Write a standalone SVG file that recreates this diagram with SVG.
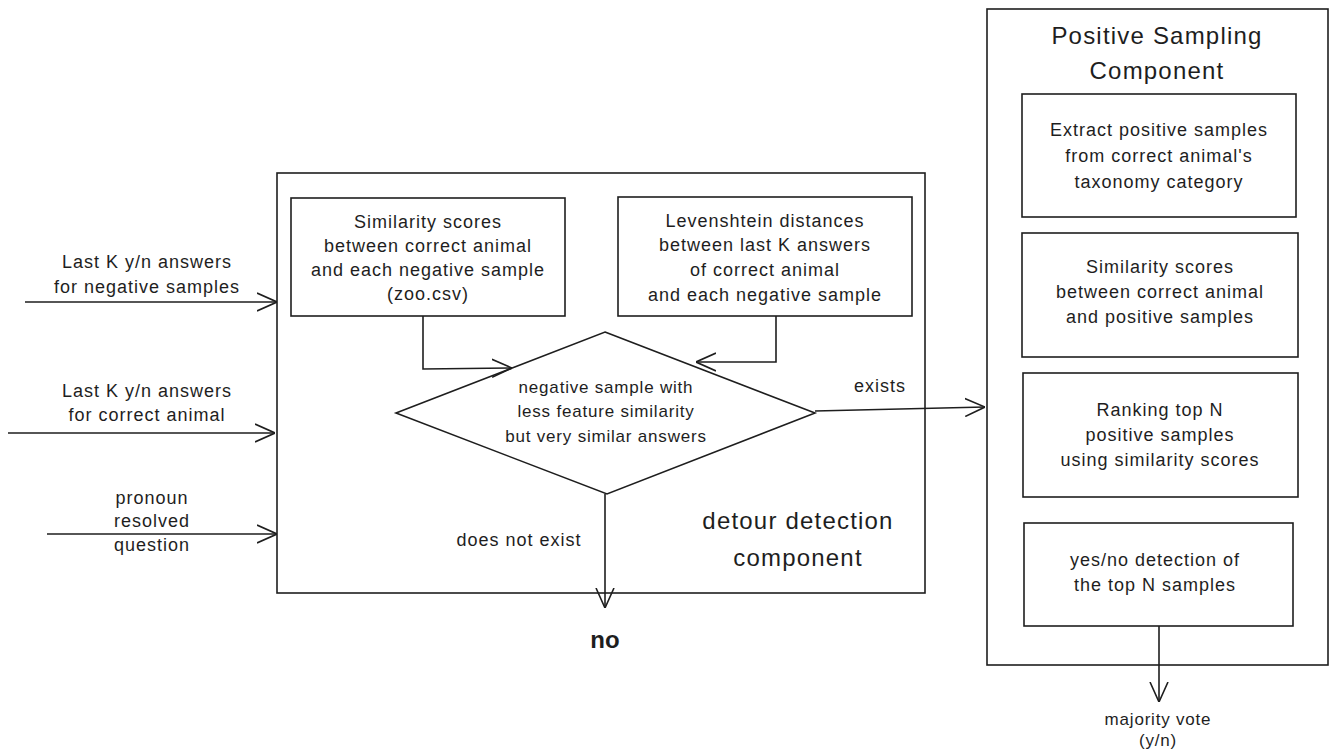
<svg xmlns="http://www.w3.org/2000/svg" width="1336" height="756" viewBox="0 0 1336 756">
<style>
text{font-family:"Liberation Sans","Open Sans",sans-serif;fill:#1e1e1e;text-anchor:middle;dominant-baseline:central}
.t{font-size:18px;letter-spacing:1px}
.s{font-size:17px;letter-spacing:0.8px}
.big{font-size:24px;letter-spacing:1.2px}
.box{fill:#fff;stroke:#1e1e1e;stroke-width:1.6}
.ln{fill:none;stroke:#1e1e1e;stroke-width:1.6}
</style>
<defs>
<marker id="ah" viewBox="0 0 20 20" refX="20" refY="10" markerWidth="20" markerHeight="20" markerUnits="userSpaceOnUse" orient="auto">
<path d="M0,1 L20,10 L0,19" fill="none" stroke="#1e1e1e" stroke-width="1.6"/>
</marker>
</defs>
<g id="detour">
<rect class="box" x="277" y="173" width="648" height="420"/>
<text class="big" x="798" y="520">detour detection</text>
<text class="big" x="798" y="557">component</text>
</g>
<g id="simneg">
<rect class="box" x="291" y="198" width="274" height="118"/>
<text class="t" x="428" y="222">Similarity scores</text>
<text class="t" x="428" y="246">between correct animal</text>
<text class="t" x="428" y="270">and each negative sample</text>
<text class="t" x="428" y="294">(zoo.csv)</text>
</g>
<g id="leven">
<rect class="box" x="618" y="197" width="294" height="119"/>
<text class="t" x="765" y="221">Levenshtein distances</text>
<text class="t" x="765" y="245">between last K answers</text>
<text class="t" x="765" y="270">of correct animal</text>
<text class="t" x="765" y="295">and each negative sample</text>
</g>
<g id="decision">
<polygon class="box" points="605,332 815,413 607,494 396,413"/>
<text class="s" x="606" y="387">negative sample with</text>
<text class="s" x="606" y="411">less feature similarity</text>
<text class="s" x="606" y="436">but very similar answers</text>
</g>
<g id="positive">
<rect class="box" x="987" y="9" width="341" height="656"/>
<text class="big" x="1157" y="35">Positive Sampling</text>
<text class="big" x="1157" y="70">Component</text>
</g>
<g id="extract">
<rect class="box" x="1022" y="94" width="274" height="123"/>
<text class="t" x="1159" y="130">Extract positive samples</text>
<text class="t" x="1159" y="156">from correct animal's</text>
<text class="t" x="1159" y="182">taxonomy category</text>
</g>
<g id="simpos">
<rect class="box" x="1022" y="233" width="276" height="124"/>
<text class="t" x="1160" y="267">Similarity scores</text>
<text class="t" x="1160" y="292">between correct animal</text>
<text class="t" x="1160" y="317">and positive samples</text>
</g>
<g id="ranking">
<rect class="box" x="1023" y="373" width="275" height="124"/>
<text class="t" x="1160" y="410">Ranking top N</text>
<text class="t" x="1160" y="435">positive samples</text>
<text class="t" x="1160" y="460">using similarity scores</text>
</g>
<g id="yesno">
<rect class="box" x="1024" y="523" width="269" height="103"/>
<text class="t" x="1155" y="560">yes/no detection of</text>
<text class="t" x="1155" y="585">the top N samples</text>
</g>
<g id="inputs">
<text class="t" x="147" y="262">Last K y/n answers</text>
<text class="t" x="147" y="287">for negative samples</text>
<text class="t" x="147" y="391">Last K y/n answers</text>
<text class="t" x="147" y="415">for correct animal</text>
<text class="t" x="152" y="498">pronoun</text>
<text class="t" x="152" y="521">resolved</text>
<text class="t" x="152" y="545">question</text>
</g>
<g id="outputs">
<text class="t" x="519" y="540">does not exist</text>
<text x="605" y="639" style="font-size:24px;font-weight:bold">no</text>
<text class="t" x="880" y="386">exists</text>
<text class="s" x="1158" y="719">majority vote</text>
<text class="s" x="1158" y="740">(y/n)</text>
</g>
<g id="connectors">
<line class="ln" x1="25" y1="302" x2="277" y2="302" marker-end="url(#ah)"/>
<line class="ln" x1="8" y1="433" x2="275" y2="433" marker-end="url(#ah)"/>
<line class="ln" x1="47" y1="534" x2="277" y2="534" marker-end="url(#ah)"/>
<polyline class="ln" points="423,316 423,369 512,368" marker-end="url(#ah)"/>
<polyline class="ln" points="776,316 776,362 696,362" marker-end="url(#ah)"/>
<line class="ln" x1="815" y1="411" x2="985" y2="407" marker-end="url(#ah)"/>
<line class="ln" x1="605" y1="494" x2="605" y2="608" marker-end="url(#ah)"/>
<line class="ln" x1="1159" y1="626" x2="1159" y2="702" marker-end="url(#ah)"/>
</g>
</svg>
